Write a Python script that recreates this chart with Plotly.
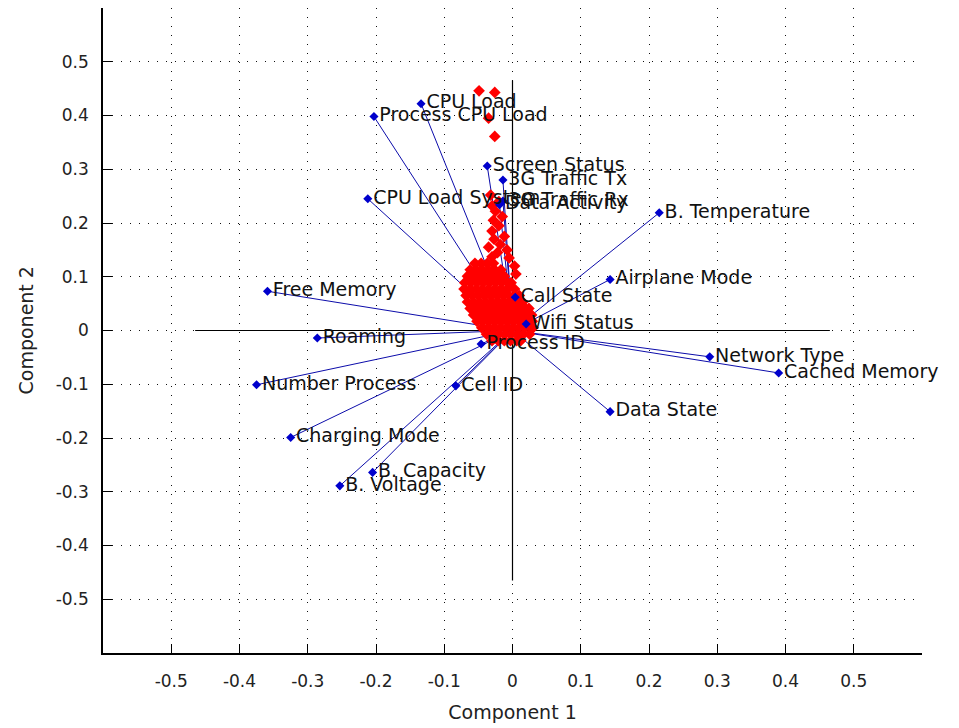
import plotly.graph_objects as go

# ---- variable loadings (Component 1, Component 2) ----
var_names = ["CPU Load", "Process CPU Load", "Screen Status", "3G Traffic Tx",
             "CPU Load System", "3G Traffic Rx", "Data Activity", "B. Temperature",
             "Airplane Mode", "Call State", "Wifi Status", "Free Memory", "Roaming",
             "Process ID", "Network Type", "Cached Memory", "Number Process", "Cell ID",
             "Data State", "Charging Mode", "B. Capacity", "B. Voltage"]
var_c1 = [-0.134, -0.203, -0.037, -0.014, -0.212, -0.014, -0.019, 0.215,
          0.143, 0.004, 0.020, -0.359, -0.286, -0.046, 0.289, 0.390, -0.375, -0.083,
          0.143, -0.325, -0.205, -0.253]
var_c2 = [0.422, 0.398, 0.306, 0.280, 0.245, 0.241, 0.234, 0.219,
          0.095, 0.062, 0.012, 0.073, -0.014, -0.025, -0.049, -0.079, -0.101, -0.103,
          -0.151, -0.199, -0.264, -0.289]

blob_rows = [
    (0.125, [-0.055, -0.046, -0.037, -0.028]),
    (0.113, [-0.062, -0.053, -0.044, -0.035, -0.026, -0.017]),
    (0.101, [-0.066, -0.057, -0.048, -0.039, -0.030, -0.021, -0.012]),
    (0.089, [-0.070, -0.061, -0.052, -0.043, -0.034, -0.025, -0.016, -0.007, -0.002]),
    (0.077, [-0.071, -0.062, -0.053, -0.044, -0.035, -0.026, -0.017, -0.008, 0.003]),
    (0.065, [-0.068, -0.059, -0.050, -0.041, -0.032, -0.023, -0.014, -0.005, 0.004, 0.010]),
    (0.053, [-0.066, -0.057, -0.048, -0.039, -0.030, -0.021, -0.012, -0.003, 0.006, 0.015]),
    (0.041, [-0.062, -0.053, -0.044, -0.035, -0.026, -0.017, -0.008, 0.001, 0.010, 0.019, 0.024]),
    (0.029, [-0.057, -0.048, -0.039, -0.030, -0.021, -0.012, -0.003, 0.006, 0.015, 0.024, 0.028]),
    (0.017, [-0.052, -0.043, -0.034, -0.025, -0.016, -0.007, 0.002, 0.011, 0.020, 0.029]),
    (0.005, [-0.045, -0.036, -0.027, -0.018, -0.009, 0.000, 0.009, 0.018, 0.027, 0.030]),
    (-0.007, [-0.038, -0.029, -0.020, -0.011, -0.002, 0.007, 0.016, 0.025]),
    (-0.019, [-0.030, -0.021, -0.012, -0.003, 0.006, 0.012]),
]
tail_c1 = [-0.030, -0.022, -0.035, -0.018, -0.027, -0.012, -0.030, -0.020, -0.028,
           -0.015, -0.025, -0.030, -0.020, -0.032, -0.008, -0.005, 0.003, 0.005,
           -0.049, -0.026, -0.035, -0.026]
tail_c2 = [0.137, 0.145, 0.155, 0.160, 0.170, 0.175, 0.185, 0.195, 0.205,
           0.212, 0.222, 0.232, 0.240, 0.252, 0.150, 0.135, 0.120, 0.105,
           0.446, 0.443, 0.395, 0.361]

axis_half = 0.465
x_ticks = [-0.5, -0.4, -0.3, -0.2, -0.1, 0, 0.1, 0.2, 0.3, 0.4, 0.5]
y_ticks = [-0.5, -0.4, -0.3, -0.2, -0.1, 0, 0.1, 0.2, 0.3, 0.4, 0.5]
tick_text = ["-0.5", "-0.4", "-0.3", "-0.2", "-0.1", "0", "0.1", "0.2", "0.3", "0.4", "0.5"]

obs_c1, obs_c2 = [], []
for yv, xs in blob_rows:
    for xv in xs:
        obs_c1.append(xv)
        obs_c2.append(yv)
obs_c1 += tail_c1
obs_c2 += tail_c2

FONT = "DejaVu Sans"
fig = go.Figure()

# reference axes through origin
fig.add_trace(go.Scatter(x=[-axis_half, axis_half, None, 0, 0],
                         y=[0, 0, None, -axis_half, axis_half],
                         mode="lines", line=dict(color="black", width=1.2),
                         hoverinfo="skip", showlegend=False))

# vectors
lx, ly = [], []
for a, b in zip(var_c1, var_c2):
    lx += [0, a, None]
    ly += [0, b, None]
fig.add_trace(go.Scatter(x=lx, y=ly, mode="lines",
                         line=dict(color="#0c0caa", width=1),
                         hoverinfo="skip", showlegend=False))

# observations
fig.add_trace(go.Scatter(x=obs_c1, y=obs_c2, mode="markers",
                         marker=dict(symbol="diamond", size=9, color="#ff0000",
                                     line=dict(width=0)),
                         showlegend=False))

# endpoints + labels
fig.add_trace(go.Scatter(x=var_c1, y=var_c2, mode="markers+text",
                         text=var_names, textposition="middle right",
                         textfont=dict(family=FONT, size=19, color="#111111"),
                         marker=dict(symbol="diamond", size=7, color="#0000cc"),
                         cliponaxis=False, showlegend=False))

axis_common = dict(
    range=[-0.6, 0.6], tickmode="array", tickvals=x_ticks, ticktext=tick_text,
    ticks="inside", ticklen=9, tickcolor="black", tickwidth=1.2,
    showline=True, linecolor="black", linewidth=1.5, mirror=False,
    showgrid=True, gridcolor="#111111", gridwidth=1, griddash="1px,8px",
    zeroline=False, tickfont=dict(family=FONT, size=17, color="#222222"),
)

fig.update_xaxes(**axis_common, ticklabelstandoff=12,
                 title=dict(text="Component 1", font=dict(family=FONT, size=19, color="#222222"),
                            standoff=16))
fig.update_yaxes(**axis_common, ticklabelstandoff=9)

fig.add_annotation(text="Component 2", xref="paper", yref="paper", x=0, y=0.5,
                   xanchor="center", yanchor="middle", xshift=-78, textangle=-90,
                   showarrow=False, font=dict(family=FONT, size=19, color="#222222"))

# page body adds an 8px offset, so the figure is sized to fit the window
fig.update_layout(width=951, height=720, plot_bgcolor="white", paper_bgcolor="white",
                  margin=dict(l=95, r=37, t=0, b=75), showlegend=False)

fig.write_html("out.html")
